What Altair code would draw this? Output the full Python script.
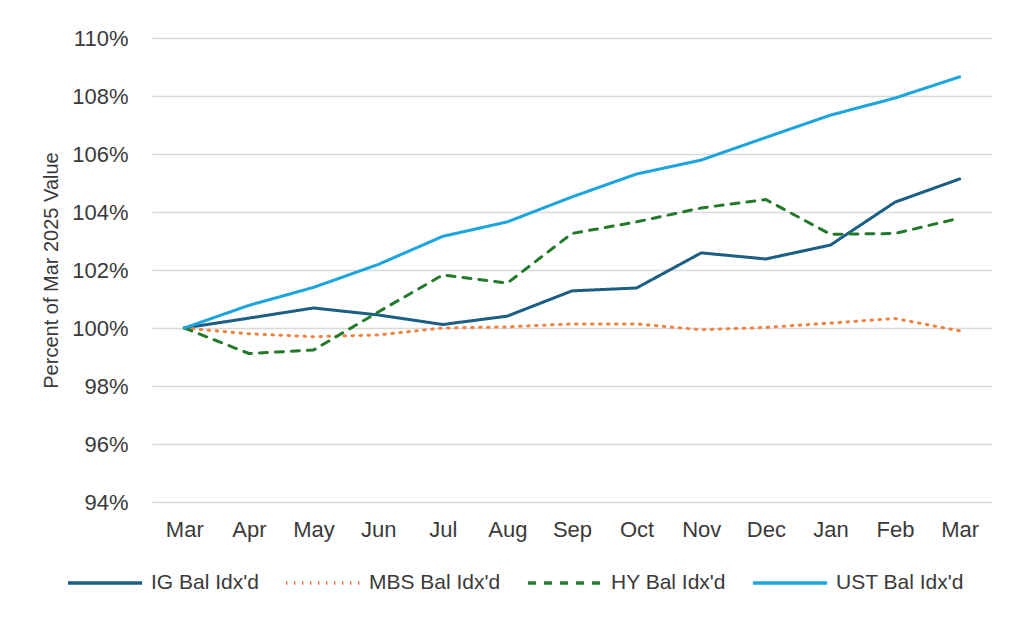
import altair as alt
import pandas as pd

months = ["Mar", "Apr", "May", "Jun", "Jul", "Aug", "Sep", "Oct", "Nov", "Dec", "Jan", "Feb", "Mar"]
series_names = ["IG Bal Idx'd", "MBS Bal Idx'd", "HY Bal Idx'd", "UST Bal Idx'd"]
ig = [100.0, 100.34, 100.69, 100.45, 100.12, 100.41, 101.28, 101.38, 102.59, 102.38, 102.86, 104.34, 105.14]
mbs = [100.0, 99.80, 99.70, 99.76, 100.0, 100.04, 100.14, 100.14, 99.94, 100.02, 100.17, 100.33, 99.90]
hy = [100.0, 99.12, 99.24, 100.55, 101.83, 101.55, 103.26, 103.66, 104.14, 104.43, 103.23, 103.26, 103.79]
ust = [100.0, 100.78, 101.40, 102.19, 103.16, 103.66, 104.52, 105.31, 105.79, 106.57, 107.34, 107.93, 108.66]

colors = ["#1b5f84", "#f0833f", "#237a2b", "#1da5de"]
dashes = [[1, 0], [1.5, 6.5], [8, 8], [1, 0]]

rows = []
for name, vals in zip(series_names, [ig, mbs, hy, ust]):
    for i, v in enumerate(vals):
        rows.append({"idx": i, "series": name, "value": v})
df = pd.DataFrame(rows)

label_expr = "[" + ",".join("'%s'" % m for m in months) + "][datum.value]"
FONT = "Liberation Sans"
TXT = "#3a3a3a"

chart = alt.Chart(df).mark_line(strokeWidth=3, strokeCap="round", strokeJoin="round").encode(
    x=alt.X("idx:O", title=None,
            scale=alt.Scale(type="point", padding=0.5),
            axis=alt.Axis(labelExpr=label_expr, labelAngle=0, ticks=False, domain=False,
                          labelPadding=17, labelFontSize=22, labelColor=TXT, labelFont=FONT)),
    y=alt.Y("value:Q", title="Percent of Mar 2025 Value",
            scale=alt.Scale(domain=[94, 110], nice=False, zero=False),
            axis=alt.Axis(values=list(range(94, 111, 2)), labelExpr="datum.value + '%'",
                          ticks=False, domain=False, labelPadding=24,
                          labelFontSize=22, labelColor=TXT, labelFont=FONT,
                          titleFontSize=20, titleFontWeight="normal", titleColor=TXT,
                          titleFont=FONT, titlePadding=10,
                          gridColor="#d9d9d9", gridWidth=1.5)),
    color=alt.Color("series:N", title=None,
                    scale=alt.Scale(domain=series_names, range=colors),
                    legend=alt.Legend(orient="none", direction="horizontal", legendX=-86, legendY=506,
                                      symbolType="stroke", symbolSize=5500, symbolStrokeWidth=3.5,
                                      labelFontSize=21, labelColor=TXT, labelFont=FONT,
                                      columnPadding=19, labelOffset=7)),
    strokeDash=alt.StrokeDash("series:N", scale=alt.Scale(domain=series_names, range=dashes), legend=None),
    order="idx:O",
).properties(
    width=840, height=464,
    autosize=alt.AutoSizeParams(type="none"),
    padding={"left": 144, "top": 30, "right": 16, "bottom": 110},
).configure_view(stroke=None).configure_axisX(grid=False)

chart.save("out.html", embed_options={"renderer": "svg", "actions": False})
